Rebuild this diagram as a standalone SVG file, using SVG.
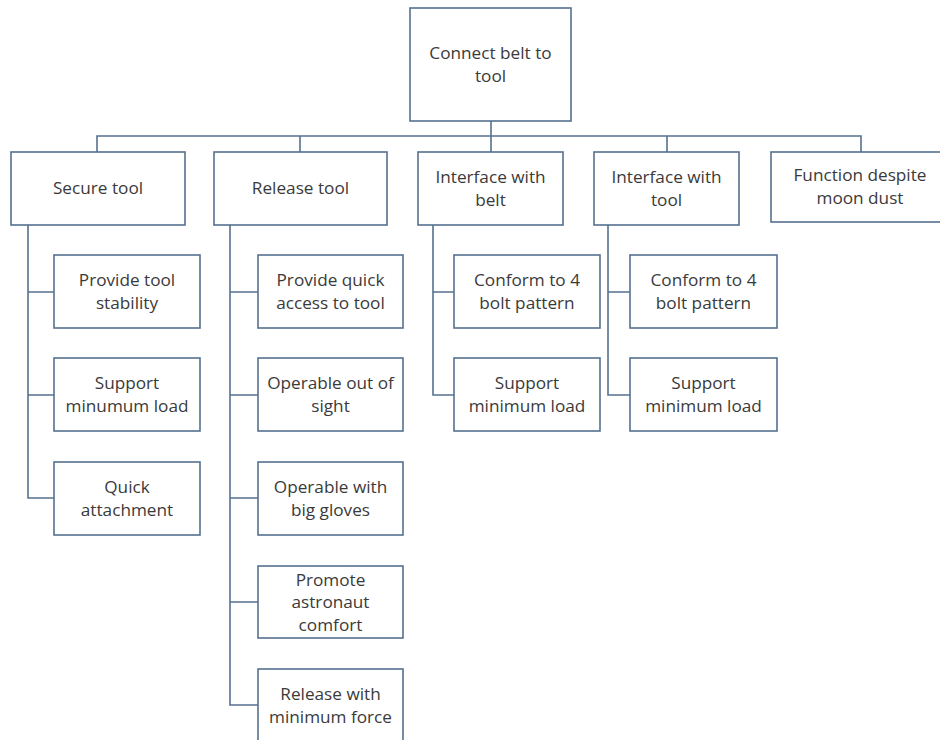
<svg xmlns="http://www.w3.org/2000/svg" width="940" height="740" viewBox="0 0 940 740">
<style>
.box{fill:#ffffff;stroke:#56708f;stroke-width:1.6}
.ln{fill:none;stroke:#56708f;stroke-width:1.6}
text{font-family:"Open Sans","Noto Sans","Liberation Sans",sans-serif;font-size:17.2px;fill:#3a3a3a;text-anchor:middle}
</style>
<rect width="940" height="740" fill="#ffffff"/>
<g id="connectors">
<path class="ln" d="M491,121 V136 M97,152 V136 H861 V152 M300,136 V152 M491,136 V152 M667,136 V152"/>
<path class="ln" d="M28,225 V498 H54 M28,292 H54 M28,395 H54"/>
<path class="ln" d="M230,225 V705 H258 M230,292 H258 M230,395 H258 M230,498 H258 M230,602 H258"/>
<path class="ln" d="M433,225 V395 H454 M433,292 H454"/>
<path class="ln" d="M608,225 V395 H630 M608,292 H630"/>
</g>
<g id="root"><rect class="box" x="410" y="8" width="161" height="113"/><text x="490.5" y="59">Connect belt to</text><text x="490.5" y="82">tool</text></g>
<g id="secure"><rect class="box" x="11" y="152" width="174" height="73"/><text x="98" y="194">Secure tool</text></g>
<g id="release"><rect class="box" x="214" y="152" width="173" height="73"/><text x="300.5" y="194">Release tool</text></g>
<g id="ifbelt"><rect class="box" x="418" y="152" width="145" height="73"/><text x="490.5" y="183">Interface with</text><text x="490.5" y="206">belt</text></g>
<g id="iftool"><rect class="box" x="594" y="152" width="145" height="73"/><text x="666.5" y="183">Interface with</text><text x="666.5" y="206">tool</text></g>
<g id="dust"><rect class="box" x="771" y="152" width="180" height="70"/><text x="860" y="181">Function despite</text><text x="860" y="204">moon dust</text></g>
<g id="s1"><rect class="box" x="54" y="255" width="146" height="73"/><text x="127" y="286">Provide tool</text><text x="127" y="309">stability</text></g>
<g id="s2"><rect class="box" x="54" y="358" width="146" height="73"/><text x="127" y="389">Support</text><text x="127" y="412">minumum load</text></g>
<g id="s3"><rect class="box" x="54" y="462" width="146" height="73"/><text x="127" y="493">Quick</text><text x="127" y="516">attachment</text></g>
<g id="r1"><rect class="box" x="258" y="255" width="145" height="73"/><text x="330.5" y="286">Provide quick</text><text x="330.5" y="309">access to tool</text></g>
<g id="r2"><rect class="box" x="258" y="358" width="145" height="73"/><text x="330.5" y="389">Operable out of</text><text x="330.5" y="412">sight</text></g>
<g id="r3"><rect class="box" x="258" y="462" width="145" height="73"/><text x="330.5" y="493">Operable with</text><text x="330.5" y="516">big gloves</text></g>
<g id="r4"><rect class="box" x="258" y="566" width="145" height="72"/><text x="330.5" y="586">Promote</text><text x="330.5" y="608">astronaut</text><text x="330.5" y="631">comfort</text></g>
<g id="r5"><rect class="box" x="258" y="669" width="145" height="75"/><text x="330.5" y="700">Release with</text><text x="330.5" y="723">minimum force</text></g>
<g id="b1"><rect class="box" x="454" y="255" width="146" height="73"/><text x="527" y="286">Conform to 4</text><text x="527" y="309">bolt pattern</text></g>
<g id="b2"><rect class="box" x="454" y="358" width="146" height="73"/><text x="527" y="389">Support</text><text x="527" y="412">minimum load</text></g>
<g id="t1"><rect class="box" x="630" y="255" width="147" height="73"/><text x="703.5" y="286">Conform to 4</text><text x="703.5" y="309">bolt pattern</text></g>
<g id="t2"><rect class="box" x="630" y="358" width="147" height="73"/><text x="703.5" y="389">Support</text><text x="703.5" y="412">minimum load</text></g>
</svg>
